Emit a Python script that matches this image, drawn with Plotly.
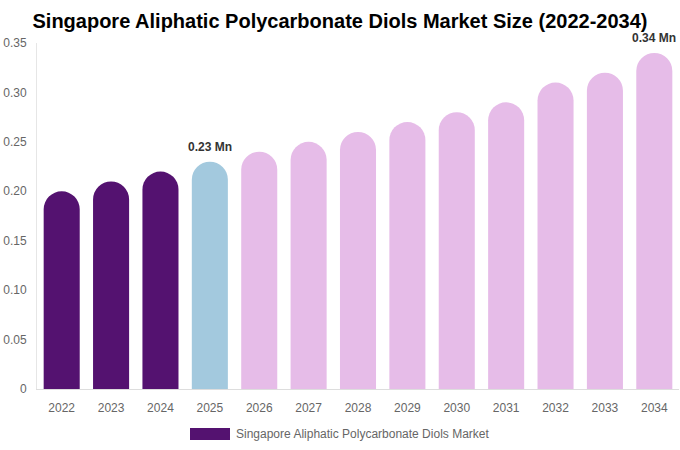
import plotly.graph_objects as go

years = ["2022", "2023", "2024", "2025", "2026", "2027", "2028", "2029", "2030", "2031", "2032", "2033", "2034"]
values = [0.20, 0.21, 0.22, 0.23, 0.24, 0.25, 0.26, 0.27, 0.28, 0.29, 0.31, 0.32, 0.34]
colors = ["#541270"] * 3 + ["#A3C9DE"] + ["#E6BCE8"] * 9
ytick_vals = [0, 0.05, 0.10, 0.15, 0.20, 0.25, 0.30, 0.35]
ytick_text = ["0", "0.05", "0.10", "0.15", "0.20", "0.25", "0.30", "0.35"]
labelled = {"2025": "0.23 Mn", "2034": "0.34 Mn"}
series_name = "Singapore Aliphatic Polycarbonate Diols Market"

fig = go.Figure()
fig.add_trace(go.Bar(x=years, y=values, marker=dict(color=colors, line=dict(width=0)),
                     width=0.73, name=series_name, showlegend=False, hoverinfo="skip"))

for yr, txt in labelled.items():
    i = years.index(yr)
    fig.add_annotation(x=i, y=values[i], text="<b>" + txt + "</b>", showarrow=False,
                       yanchor="bottom", yshift=6,
                       font=dict(family="Liberation Sans, Arial", size=12, color="#333333"))

PW, PH = 642, 346
# manual legend
fig.add_shape(type="rect", xref="paper", yref="paper", x0=(190-37)/PW, x1=(230-37)/PW,
              y0=-(428-389)/PH, y1=-(440-389)/PH, fillcolor="#541270", line=dict(width=0))
fig.add_annotation(xref="paper", yref="paper", x=(234-37)/PW, y=-(433.5-389)/PH,
                   text=series_name, showarrow=False, xanchor="left", yanchor="middle",
                   font=dict(family="Liberation Sans, Arial", size=12, color="#666666"))

fig.update_layout(
    width=680, height=450,
    margin=dict(l=37, r=1, t=43, b=61),
    paper_bgcolor="white", plot_bgcolor="white",
    barcornerradius="50%",
    title=dict(text="<b>Singapore Aliphatic Polycarbonate Diols Market Size (2022-2034)</b>",
               x=0.5, xanchor="center", y=1 - 21/450, yanchor="middle",
               font=dict(family="Liberation Sans, Arial", size=20, color="#000000")),
    font=dict(family="Liberation Sans, Arial", size=12, color="#666666"),
    xaxis=dict(type="category", range=[-0.5, len(years) - 0.5], showgrid=False, showline=True,
               linecolor="#dddddd", linewidth=1, ticks="", ticklabelstandoff=8, automargin=False,
               tickfont=dict(size=12, color="#666666")),
    yaxis=dict(range=[0, 0.35], showgrid=False, showline=True, linecolor="#e6e6e6", linewidth=1,
               zeroline=False, tickvals=ytick_vals, ticktext=ytick_text, ticks="",
               ticklabelstandoff=7, automargin=False, tickfont=dict(size=12, color="#666666")),
)
fig.write_html("out.html", config={"displayModeBar": False},
               post_script="document.body.style.margin='0';")
